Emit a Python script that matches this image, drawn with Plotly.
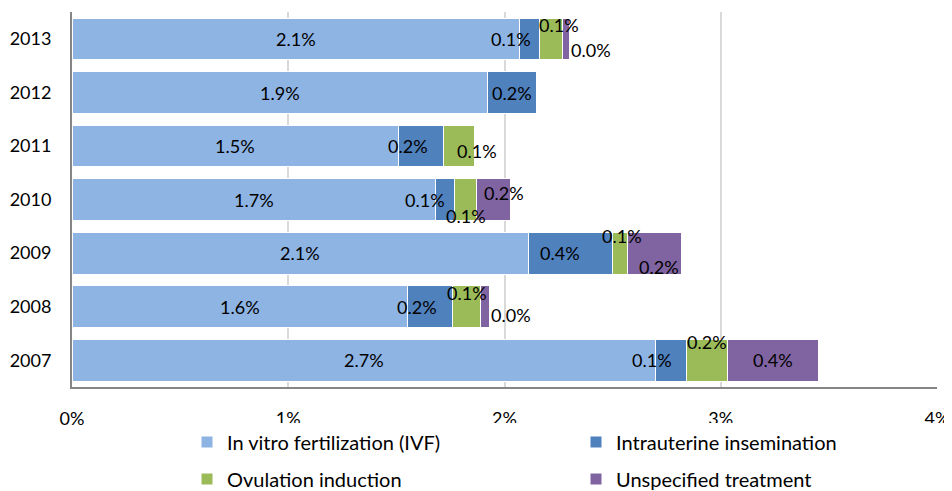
import plotly.graph_objects as go

# share of births by treatment type (%), per year
years = ['2007', '2008', '2009', '2010', '2011', '2012', '2013']
ivf = [2.70, 1.55, 2.11, 1.68, 1.51, 1.92, 2.07]
iui = [0.14, 0.21, 0.39, 0.09, 0.21, 0.23, 0.09]
ovulation = [0.19, 0.13, 0.07, 0.10, 0.14, None, 0.11]
unspecified = [0.42, 0.04, 0.25, 0.16, None, None, 0.03]

series_names = ['In vitro fertilization (IVF)', 'Intrauterine insemination',
                'Ovulation induction', 'Unspecified treatment']
x_ticks = [0, 1, 2, 3, 4]
x_tick_labels = ['0%', '1%', '2%', '3%', '4%']

colors = ['#8EB4E3', '#4F81BD', '#9BBB59', '#8064A2']
FONT = 'Lato'
FS = 18

# label nudges (px) for the small segments, like the hand-moved Excel labels
nudge = {
    ('2013', 1): (-18, 0), ('2013', 2): (8, 14), ('2013', 3): (25, -11),
    ('2011', 1): (-13, 0), ('2011', 2): (18, -5),
    ('2010', 1): (-20, 0), ('2010', 2): (0, -16), ('2010', 3): (10, 7),
    ('2009', 1): (-10, 0), ('2009', 2): (2, 17), ('2009', 3): (4, -14),
    ('2008', 1): (-13, 0), ('2008', 2): (0, 14), ('2008', 3): (26, -8),
    ('2007', 1): (-19, 0), ('2007', 2): (0, 18),
}

all_series = [ivf, iui, ovulation, unspecified]
legends = ['legend', 'legend', 'legend2', 'legend2']

fig = go.Figure()
for i, (name, vals) in enumerate(zip(series_names, all_series)):
    fig.add_trace(go.Bar(
        y=years, x=vals, name=name, orientation='h',
        marker=dict(color=colors[i], line=dict(color='white', width=1)),
        legend=legends[i], hoverinfo='skip',
    ))

# data labels centred on each segment
base = [0.0] * len(years)
for i, vals in enumerate(all_series):
    for j, v in enumerate(vals):
        if v is None:
            continue
        dx, dy = nudge.get((years[j], i), (0, 0))
        fig.add_annotation(
            x=base[j] + v / 2, y=j, xref='x', yref='y',
            text=f'{v:.1f}%', showarrow=False, xshift=dx, yshift=dy,
            font=dict(family=FONT, size=FS, color='black'),
        )
        base[j] += v

# page body has an 8px margin, so the figure is a bit smaller than the window
W, H = 944, 483
legend_style = dict(orientation='h', xref='container', yref='container',
                    x=179 / W, yanchor='middle', xanchor='left', traceorder='normal',
                    entrywidth=344, itemwidth=30, font=dict(size=20))

fig.update_layout(
    width=W, height=H,
    barmode='stack', bargap=0.22, showlegend=True,
    plot_bgcolor='white', paper_bgcolor='white',
    margin=dict(l=64, r=15, t=4, b=104, autoexpand=False),
    font=dict(family=FONT, size=FS, color='black'),
    legend=dict(legend_style, y=1 - 434 / H),
    legend2=dict(legend_style, y=1 - 471 / H),
)
fig.update_xaxes(range=[0, 4], tickvals=x_ticks, ticktext=x_tick_labels,
                 showgrid=True, gridcolor='#D9D9D9', gridwidth=1.5,
                 showline=True, linecolor='#868686', linewidth=2,
                 zeroline=False, ticks='', ticklabelstandoff=14, automargin=False)
fig.update_yaxes(type='category', showgrid=False, showline=True,
                 linecolor='#868686', linewidth=2,
                 ticks='', ticklabelstandoff=15, automargin=False)

fig.write_html("out.html")
